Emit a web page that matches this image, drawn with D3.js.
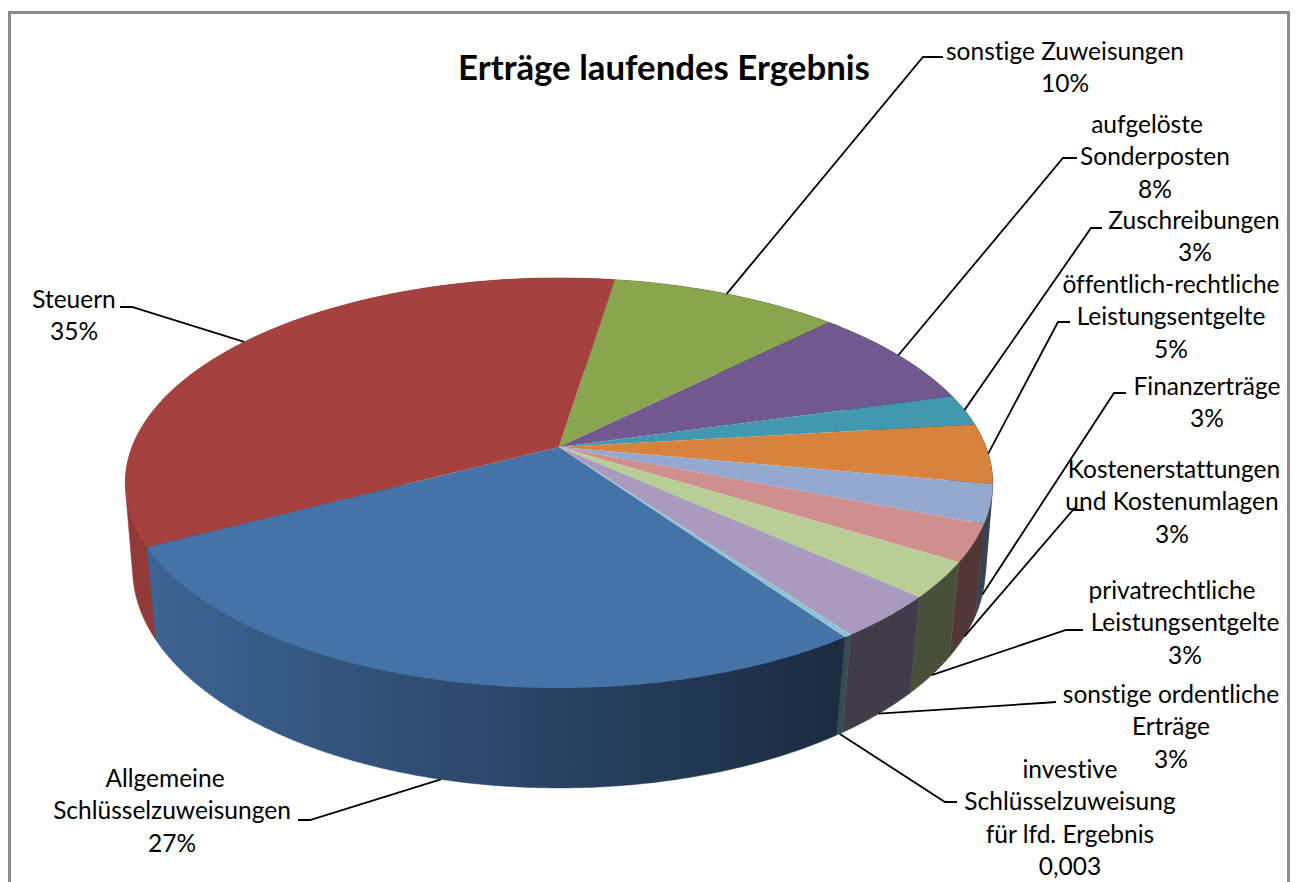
<!DOCTYPE html>
<html>
<head>
<meta charset="utf-8">
<title>Erträge laufendes Ergebnis</title>
<script src="https://d3js.org/d3.v7.min.js"></script>
<style>
    html, body { margin: 0; padding: 0; background: #fff; overflow: hidden; }
    text { font-family: Lato, "Open Sans", sans-serif; fill: #000; font-variant-ligatures: none; }
</style>
</head>
<body>
<div id="chart"></div>
<script>
    // Values (share in %), clockwise from the front
    const categories = [
        ['Allgemeine', 'Schlüsselzuweisungen'],
        ['Steuern'],
        ['sonstige Zuweisungen'],
        ['aufgelöste', 'Sonderposten'],
        ['Zuschreibungen'],
        ['öffentlich-rechtliche', 'Leistungsentgelte'],
        ['Finanzerträge'],
        ['Kostenerstattungen', 'und Kostenumlagen'],
        ['privatrechtliche', 'Leistungsentgelte'],
        ['sonstige ordentliche', 'Erträge'],
        ['investive', 'Schlüsselzuweisung', 'für lfd. Ergebnis']
    ];
    const values = [27.08, 35.11, 10.11, 8.14, 2.47, 4.72, 3.03, 2.92, 2.78, 3.42, 0.25];
    const valueLabels = ['27%', '35%', '10%', '8%', '3%', '5%', '3%', '3%', '3%', '3%', '0,003'];
    const colors = ['#4572A7', '#A5423F', '#89A54E', '#71588F', '#4198AF', '#D8833D', '#93A9CF', '#CF8F8E', '#B9CD96', '#A99BBD', '#8FC3D4'];

    const width = 1295, height = 882;

    // Label layout: line centres, first baseline, and the leader's two outer points
    const labelLayout = [
        { xs: [165, 172, 172], y: 787, leader: [[298, 820], [310, 820]] },
        { xs: [74, 74], y: 308, leader: [[120, 307], [132, 307]] },
        { xs: [1065, 1065], y: 60, leader: [[943, 57], [923, 57]] },
        { xs: [1147, 1155, 1155], y: 133, leader: [[1077, 158], [1063, 158]] },
        { xs: [1194, 1195], y: 229, leader: [[1102, 228], [1091, 228]] },
        { xs: [1171, 1171, 1171], y: 293, leader: [[1070, 322], [1058, 322]] },
        { xs: [1207, 1207], y: 395, leader: [[1126, 393], [1114, 393]] },
        { xs: [1174, 1172, 1172], y: 478, leader: [[1084, 510], [1073, 510]] },
        { xs: [1172, 1185, 1185], y: 599, leader: [[1083, 630], [1066, 630]] },
        { xs: [1171, 1171, 1171], y: 703, leader: [[1056, 702], [1042, 703]] },
        { xs: [1070, 1070, 1070, 1070], y: 778, leader: [[957, 802], [945, 802]] }
    ];
    const lineHeight = 32.4;

    // Perspective projection of the top and bottom discs
    const cx = 559;
    const topDisc = { cy: 447, a: 427, b: 198.7, k: 0.1756 };
    const bottomDisc = { cy: 533.5, a: 421, b: 214, k: 0.159 };

    function project(disc, angle) {
        const u = Math.sin(angle), v = -Math.cos(angle);
        const w = 1 - disc.k * v;
        return [cx + disc.a * u / w, disc.cy + disc.b * v / w];
    }

    // Points along the rim of one slice
    function rim(disc, s) {
        const n = Math.max(2, Math.ceil((s.endAngle - s.startAngle) / (Math.PI / 360)));
        return d3.range(n + 1).map(j => project(disc, s.startAngle + (s.endAngle - s.startAngle) * j / n));
    }

    const start = 145 * Math.PI / 180;
    const pie = d3.pie().sort(null).startAngle(start).endAngle(start + 2 * Math.PI);
    const slices = pie(values);

    const svg = d3.select('#chart').append('svg')
        .attr('width', width)
        .attr('height', height)
        .style('display', 'block');

    // Wall gets darker from left to right
    const defs = svg.append('defs');
    colors.forEach((color, i) => {
        const c = d3.rgb(color);
        const gradient = defs.append('linearGradient')
            .attr('id', `wall-${i}`)
            .attr('gradientUnits', 'userSpaceOnUse')
            .attr('x1', 150).attr('x2', 830)
            .attr('y1', 0).attr('y2', 0);
        [0.88, 0.39].forEach((f, j) => {
            gradient.append('stop')
                .attr('offset', j)
                .attr('stop-color', d3.rgb(c.r * f, c.g * f, c.b * f).formatHex());
        });
    });

    // Chart frame, open at the bottom
    svg.append('path')
        .attr('d', `M9.5,${height} V12.5 H1288.5 V${height}`)
        .attr('fill', 'none')
        .attr('stroke', '#8c8c8c')
        .attr('stroke-width', 3);

    // Walls, painted back to front. Hull gives the straight silhouette between the discs,
    // whatever it adds on the inner side ends up under the top face or the next wall
    const wallOrder = slices.map((s, i) => ({ s, i }))
        .sort((p, q) => (-Math.cos((p.s.startAngle + p.s.endAngle) / 2)) - (-Math.cos((q.s.startAngle + q.s.endAngle) / 2)));

    svg.append('g').selectAll('path')
        .data(wallOrder)
        .join('path')
        .attr('d', d => d3.line()(d3.polygonHull([...rim(topDisc, d.s), ...rim(bottomDisc, d.s)])) + 'Z')
        .attr('fill', d => `url(#wall-${d.i})`)
        .attr('stroke', d => `url(#wall-${d.i})`)
        .attr('stroke-width', 0.5);

    // Top face
    svg.append('g').selectAll('path')
        .data(slices)
        .join('path')
        .attr('d', s => d3.line()([[cx, topDisc.cy], ...rim(topDisc, s)]) + 'Z')
        .attr('fill', (s, i) => colors[i]);

    // Leader lines end at the middle of the slice: top rim at the back, lower rim at the front
    svg.append('g').selectAll('path')
        .data(slices)
        .join('path')
        .attr('d', (s, i) => {
            const mid = (s.startAngle + s.endAngle) / 2;
            const anchor = project(-Math.cos(mid) > 0.1 ? bottomDisc : topDisc, mid);
            return d3.line()([...labelLayout[i].leader, anchor]);
        })
        .attr('fill', 'none')
        .attr('stroke', '#000')
        .attr('stroke-width', 1.8);

    // Data labels
    const labels = svg.append('g').selectAll('text')
        .data(categories.map((lines, i) => ({ lines: [...lines, valueLabels[i]], layout: labelLayout[i] })))
        .join('text')
        .attr('font-size', 24.5)
        .attr('text-anchor', 'middle');

    labels.selectAll('tspan')
        .data(d => d.lines.map((line, j) => ({ line, x: d.layout.xs[j], y: d.layout.y + j * lineHeight })))
        .join('tspan')
        .attr('x', d => d.x)
        .attr('y', d => d.y)
        .text(d => d.line);

    svg.append('text')
        .attr('x', 664)
        .attr('y', 80)
        .attr('text-anchor', 'middle')
        .attr('font-size', 34.8)
        .attr('font-weight', 700)
        .text('Erträge laufendes Ergebnis');
</script>
</body>
</html>
